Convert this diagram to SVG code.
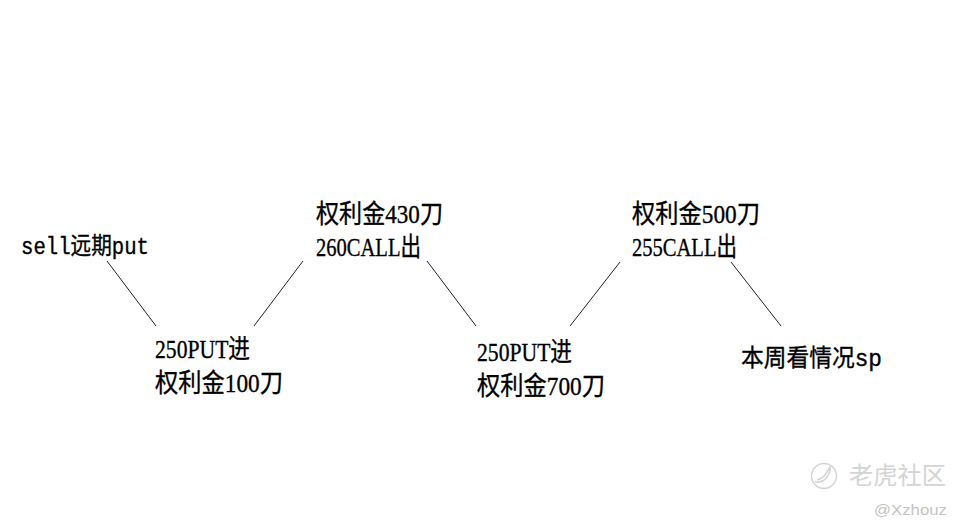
<svg xmlns="http://www.w3.org/2000/svg" width="964" height="531" viewBox="0 0 964 531">
<style>
.t{font-family:"Liberation Serif","Noto Sans CJK SC",serif;font-size:26px;fill:#000;stroke:#000;stroke-width:.35}
.m{font-family:"Liberation Mono","Noto Sans CJK SC",monospace;font-size:24px}
.c{stroke:#222;stroke-width:1;fill:none}
.w1{font-family:"Noto Sans CJK SC",sans-serif;font-size:24px;fill:#d4d4d4}
.w2{font-family:"Liberation Sans",sans-serif;font-size:15px;fill:#c4c4c4}
</style>
<rect width="964" height="531" fill="#fff"/>
<g id="connectors">
<line class="c" x1="107" y1="261" x2="156" y2="326"/>
<line class="c" x1="303" y1="261" x2="254" y2="326"/>
<line class="c" x1="427" y1="261" x2="476" y2="326"/>
<line class="c" x1="620" y1="262" x2="570" y2="326"/>
<line class="c" x1="731" y1="262" x2="781" y2="326"/>
</g>
<g id="n1"><text class="t m" x="21" y="254" textLength="128" lengthAdjust="spacingAndGlyphs">sell远期put</text></g>
<g id="n2"><text class="t" x="155" y="358" textLength="95" lengthAdjust="spacingAndGlyphs">250PUT进</text><text class="t" x="155" y="392" textLength="128" lengthAdjust="spacingAndGlyphs">权利金100刀</text></g>
<g id="n3"><text class="t" x="316" y="223" textLength="127" lengthAdjust="spacingAndGlyphs">权利金430刀</text><text class="t" x="316" y="256" textLength="105" lengthAdjust="spacingAndGlyphs">260CALL出</text></g>
<g id="n4"><text class="t" x="477" y="361" textLength="95" lengthAdjust="spacingAndGlyphs">250PUT进</text><text class="t" x="477" y="395" textLength="128" lengthAdjust="spacingAndGlyphs">权利金700刀</text></g>
<g id="n5"><text class="t" x="632" y="223" textLength="128" lengthAdjust="spacingAndGlyphs">权利金500刀</text><text class="t" x="632" y="256" textLength="105" lengthAdjust="spacingAndGlyphs">255CALL出</text></g>
<g id="n6"><text class="t m" x="741" y="366" textLength="141" lengthAdjust="spacingAndGlyphs">本周看情况sp</text></g>
<g id="watermark">
<circle cx="824" cy="476" r="12.5" fill="none" stroke="#d4d4d4" stroke-width="1.5"/>
<path d="M815 482q8 1 12-5t3-10q-3 5-5 8t-8 5" fill="none" stroke="#d4d4d4" stroke-width="1.5"/>
<text class="w1" x="849" y="484" textLength="97" lengthAdjust="spacingAndGlyphs">老虎社区</text>
<text class="w2" x="874" y="515" textLength="73" lengthAdjust="spacingAndGlyphs">@Xzhouz</text>
</g>
</svg>
